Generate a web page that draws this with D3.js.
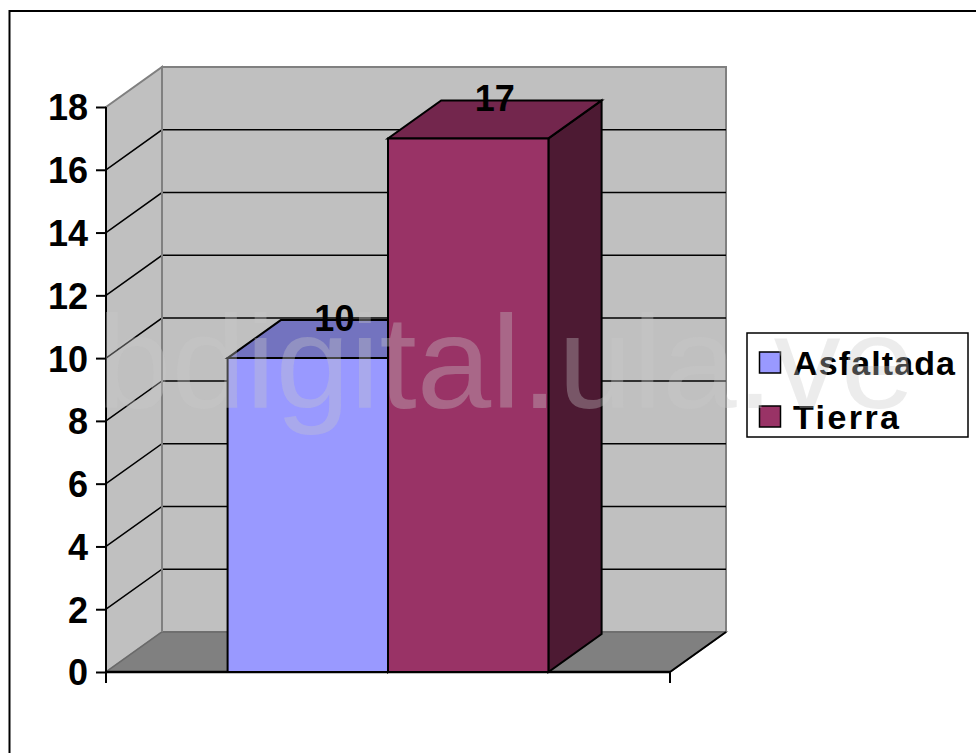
<!DOCTYPE html>
<html><head><meta charset="utf-8">
<script src="https://cdn.jsdelivr.net/npm/d3@7"></script>
<style>body{margin:0;background:#fff;}svg{display:block;}</style>
</head><body>
<svg id="c" width="976" height="753"></svg>
<script>
const categories = [""];
const seriesNames = ["Asfaltada", "Tierra"];
const seriesValues = [10, 17];
const valueLabels = ["10", "17"];
const tickValues = [0, 2, 4, 6, 8, 10, 12, 14, 16, 18];
const watermarkText = "bdigital.ula.ve";

const frontColors = ["#9999FF", "#993366"];
const topColors = ["#7373BF", "#73264D"];
const sideColors = ["#4D4D80", "#4D1A33"];

const svg = d3.select("#c");
const FONT = "'Liberation Sans', Arial, sans-serif";

// 3D geometry
const DX = 56, DY = -40;
const y = d3.scaleLinear().domain([0, 18]).range([672, 107]);
const x0 = d3.scaleBand().domain(categories).range([106, 670]).paddingInner(0).paddingOuter(0.379);
const x1 = d3.scaleBand().domain(seriesNames).range([0, x0.bandwidth()]);
const X0 = 106, X1 = 670;
const p = (xx, yy, d) => [xx + DX * d, yy + DY * d];
const poly = pts => pts.map(q => q.join(",")).join(" ");

// outer border
svg.append("rect").attr("x", 9.5).attr("y", 11).attr("width", 1000).attr("height", 800)
  .attr("fill", "none").attr("stroke", "#000").attr("stroke-width", 2);

// back wall
svg.append("polygon").attr("points", poly([p(X0, y(18), 1), p(X1, y(18), 1), p(X1, y(0), 1), p(X0, y(0), 1)]))
  .attr("fill", "#C0C0C0").attr("stroke", "#808080").attr("stroke-width", 2);
// side wall
svg.append("polygon").attr("points", poly([p(X0, y(18), 0), p(X0, y(18), 1), p(X0, y(0), 1), p(X0, y(0), 0)]))
  .attr("fill", "#C0C0C0").attr("stroke", "#808080").attr("stroke-width", 2);
// floor
svg.append("polygon").attr("points", poly([p(X0, y(0), 0), p(X1, y(0), 0), p(X1, y(0), 1), p(X0, y(0), 1)]))
  .attr("fill", "#808080").attr("stroke", "#6a6a6a").attr("stroke-width", 1.5);

// gridlines
const grid = tickValues.filter(v => v > 0 && v < 18);
grid.forEach(v => {
  const a = p(X0, y(v), 0), b = p(X0, y(v), 1), c = p(X1, y(v), 1);
  svg.append("polyline").attr("points", poly([a, b, c])).attr("fill", "none")
    .attr("stroke", "#000").attr("stroke-width", 1.5);
});
svg.append("line").attr("x1", X0 + DX).attr("y1", y(18) + DY).attr("x2", X0 + DX).attr("y2", y(0) + DY)
  .attr("stroke", "#808080").attr("stroke-width", 2);

// axes
svg.append("line").attr("x1", X0).attr("y1", y(18)).attr("x2", X0).attr("y2", y(0) + 11)
  .attr("stroke", "#000").attr("stroke-width", 2);
svg.append("line").attr("x1", X0).attr("y1", y(0)).attr("x2", X1).attr("y2", y(0))
  .attr("stroke", "#000").attr("stroke-width", 2.5);
svg.append("polyline").attr("points", poly([p(X1, y(0) + 11, 0), p(X1, y(0), 0), p(X1, y(0), 1)]))
  .attr("fill", "none").attr("stroke", "#000").attr("stroke-width", 2);

const yAxis = d3.axisLeft(y).tickValues(tickValues).tickSize(10).tickPadding(8).tickFormat(d3.format("d"));
const ag = svg.append("g").attr("transform", `translate(${X0},0)`).call(yAxis);
ag.select(".domain").remove();
ag.selectAll(".tick line").attr("stroke", "#000").attr("stroke-width", 2);
ag.selectAll(".tick text").attr("font-family", FONT).attr("font-weight", "bold")
  .attr("font-size", 36).attr("fill", "#000").attr("dy", "0.36em").attr("x", -18);

// bars
const F0 = 0.0, F1 = 0.95;
seriesNames.forEach((s, i) => {
  const xl = x0(categories[0]) + x1(s), xr = xl + x1.bandwidth();
  const yt = y(seriesValues[i]), yb = y(0);
  const g = svg.append("g");
  g.append("polygon").attr("points", poly([p(xr, yt, F0), p(xr, yt, F1), p(xr, yb, F1), p(xr, yb, F0)]))
    .attr("fill", sideColors[i]).attr("stroke", "#000").attr("stroke-width", 2);
  g.append("polygon").attr("points", poly([p(xl, yt, F0), p(xr, yt, F0), p(xr, yt, F1), p(xl, yt, F1)]))
    .attr("fill", topColors[i]).attr("stroke", "#000").attr("stroke-width", 2);
  g.append("polygon").attr("points", poly([p(xl, yt, F0), p(xr, yt, F0), p(xr, yb, F0), p(xl, yb, F0)]))
    .attr("fill", frontColors[i]).attr("stroke", "#000").attr("stroke-width", 2);
});
// value labels
seriesNames.forEach((s, i) => {
  const xc = x0(categories[0]) + x1(s) + x1.bandwidth() / 2;
  const c = p(xc, y(seriesValues[i]), (F0 + F1) / 2);
  svg.append("text").attr("x", c[0]).attr("y", c[1] - 8).attr("text-anchor", "middle")
    .attr("font-family", FONT).attr("font-weight", "bold").attr("font-size", 36).attr("fill", "#000")
    .text(valueLabels[i]);
});

// legend
const lg = svg.append("g");
lg.append("rect").attr("x", 747).attr("y", 333).attr("width", 221).attr("height", 104)
  .attr("fill", "#fff").attr("stroke", "#000").attr("stroke-width", 1.5);
const legY = [352, 406];
const legBase = [375, 429];
const legLen = [162, 106];
seriesNames.forEach((s, i) => {
  lg.append("rect").attr("x", 759.5).attr("y", legY[i]).attr("width", 21).attr("height", 21)
    .attr("fill", frontColors[i]).attr("stroke", "#000").attr("stroke-width", 1.5);
  lg.append("text").attr("x", 793).attr("y", legBase[i]).attr("font-family", FONT)
    .attr("font-weight", "bold").attr("font-size", 34).attr("fill", "#000")
    .attr("textLength", legLen[i]).attr("lengthAdjust", "spacing").text(s);
});

// watermark
svg.append("text").attr("x", 97).attr("y", 408).attr("font-family", FONT)
  .attr("font-size", 132).attr("fill", "#c8c8c8").attr("fill-opacity", 0.35)
  .attr("textLength", 818).attr("lengthAdjust", "spacingAndGlyphs").text(watermarkText);
</script>
</body></html>
